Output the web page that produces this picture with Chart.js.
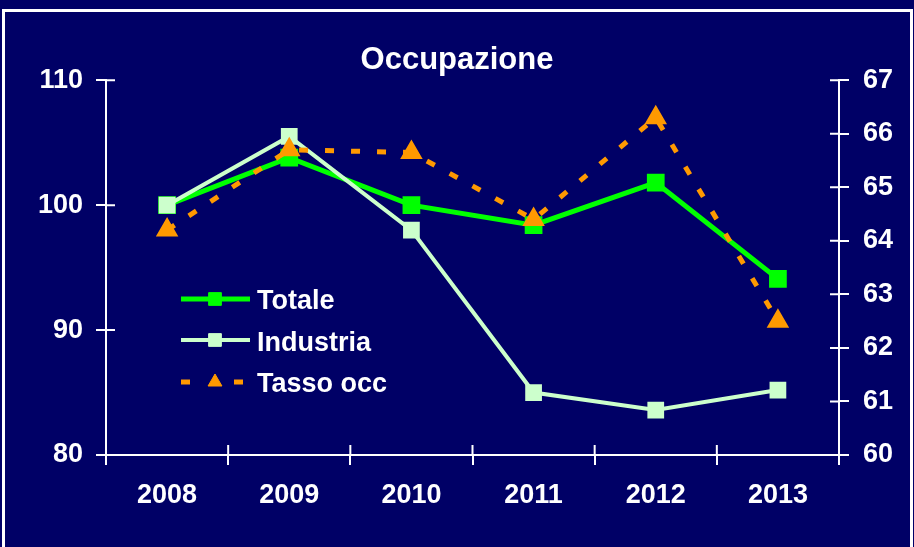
<!DOCTYPE html>
<html>
<head>
<meta charset="utf-8">
<script src="https://cdn.jsdelivr.net/npm/chart.js@4"></script>
<style>
  html, body { margin: 0; padding: 0; background: #000066; }
  #wrap { width: 914px; height: 547px; position: relative; }
</style>
</head>
<body>
<div id="wrap"><canvas id="occChart" width="914" height="547"></canvas></div>
<script>
const years = ['2008', '2009', '2010', '2011', '2012', '2013'];
const totale = [100, 103.8, 100, 98.4, 101.8, 94.1];
const industria = [100, 105.5, 98, 85, 83.6, 85.2];
const tassoOcc = [64.2, 65.7, 65.65, 64.4, 66.3, 62.5];
const leftTicks = [80, 90, 100, 110];
const rightTicks = [60, 61, 62, 63, 64, 65, 66, 67];

const FONT = "'Liberation Sans', Arial, sans-serif";

// white frame, inner tick halves and the legend box
const decorations = {
    id: 'decorations',
    beforeDraw(chart) {
        const c = chart.ctx;
        c.save();
        c.fillStyle = '#000066';
        c.fillRect(0, 0, chart.width, chart.height);
        c.strokeStyle = '#ffffff';
        c.lineWidth = 3;
        c.strokeRect(3.5, 10.5, 908, 560);
        c.restore();
    },
    afterDatasetsDraw(chart) {
        const c = chart.ctx;
        const { x, y, y2 } = chart.scales;
        c.save();
        c.strokeStyle = '#ffffff';
        c.lineWidth = 2;
        c.beginPath();
        // inner part of the tick marks
        const n = years.length;
        for (let i = 0; i <= n; i++) {
            const px = x.left + i * (x.right - x.left) / n;
            c.moveTo(px, x.top);
            c.lineTo(px, x.top - 10);
        }
        y.ticks.forEach((t, i) => {
            const py = y.getPixelForTick(i);
            c.moveTo(y.right, py);
            c.lineTo(y.right + 9, py);
        });
        y2.ticks.forEach((t, i) => {
            const py = y2.getPixelForTick(i);
            c.moveTo(y2.left, py);
            c.lineTo(y2.left - 9, py);
        });
        c.stroke();

        // legend
        const rows = [299, 340, 382];
        const baselines = [309, 351, 392];
        chart.data.datasets.forEach((ds, i) => {
            const ly = rows[i];
            c.save();
            c.strokeStyle = ds.borderColor;
            c.lineWidth = ds.borderWidth;
            c.beginPath();
            if (ds.borderDash) {
                c.moveTo(181, ly); c.lineTo(190, ly);
                c.moveTo(234, ly); c.lineTo(243, ly);
            } else {
                c.moveTo(181, ly); c.lineTo(250, ly);
            }
            c.stroke();
            c.fillStyle = ds.pointBackgroundColor;
            c.strokeStyle = ds.pointBorderColor;
            c.lineWidth = 1;
            Chart.helpers.drawPoint(c, {
                pointStyle: ds.pointStyle,
                radius: ds.pointRadius,
                borderWidth: 1
            }, 215, ly);
            c.restore();

            c.fillStyle = '#ffffff';
            c.font = 'bold 27px ' + FONT;
            c.textBaseline = 'alphabetic';
            c.fillText(ds.label, 257, baselines[i]);
        });
        c.restore();
    }
};

new Chart(document.getElementById('occChart').getContext('2d'), {
    type: 'line',
    data: {
        labels: years,
        datasets: [
            {
                label: 'Totale',
                data: totale,
                yAxisID: 'y',
                borderColor: '#00ff00',
                backgroundColor: '#00ff00',
                pointBackgroundColor: '#00ff00',
                pointBorderColor: '#00ff00',
                borderWidth: 5,
                pointStyle: 'rect',
                pointRadius: 9,
                order: 3
            },
            {
                label: 'Industria',
                data: industria,
                yAxisID: 'y',
                borderColor: '#ccffcc',
                backgroundColor: '#ccffcc',
                pointBackgroundColor: '#ccffcc',
                pointBorderColor: '#ccffcc',
                borderWidth: 4,
                pointStyle: 'rect',
                pointRadius: 9,
                order: 2
            },
            {
                label: 'Tasso occ',
                data: tassoOcc,
                yAxisID: 'y2',
                borderColor: '#ff9900',
                backgroundColor: '#ff9900',
                pointBackgroundColor: '#ff9900',
                pointBorderColor: '#ff9900',
                borderWidth: 5,
                borderDash: [9, 17],
                pointStyle: 'triangle',
                pointRadius: 8,
                order: 1
            }
        ]
    },
    options: {
        responsive: false,
        animation: false,
        layout: { padding: 0 },
        plugins: {
            legend: { display: false },
            tooltip: { enabled: false },
            title: {
                display: true,
                text: 'Occupazione',
                color: '#ffffff',
                font: { family: FONT, size: 31, weight: 'bold' },
                padding: { top: 42, bottom: 1 }
            }
        },
        scales: {
            x: {
                offset: true,
                grid: { display: true, offset: true, drawOnChartArea: false, drawTicks: true, tickLength: 10, color: '#ffffff', lineWidth: 2 },
                border: { display: true, color: '#ffffff', width: 2 },
                ticks: { color: '#ffffff', font: { family: FONT, size: 27, weight: 'bold' }, padding: 14, maxRotation: 0 },
                afterFit: s => { s.height = 92; }
            },
            y: {
                position: 'left',
                min: 80, max: 110,
                afterBuildTicks: s => { s.ticks = leftTicks.map(v => ({ value: v })); },
                grid: { display: true, drawOnChartArea: false, drawTicks: true, tickLength: 10, color: '#ffffff', lineWidth: 2 },
                border: { display: true, color: '#ffffff', width: 2 },
                ticks: { color: '#ffffff', font: { family: FONT, size: 27, weight: 'bold' }, padding: 13 },
                afterFit: s => { s.width = 106; }
            },
            y2: {
                position: 'right',
                min: 60, max: 67,
                afterBuildTicks: s => { s.ticks = rightTicks.map(v => ({ value: v })); },
                grid: { display: true, drawOnChartArea: false, drawTicks: true, tickLength: 10, color: '#ffffff', lineWidth: 2 },
                border: { display: true, color: '#ffffff', width: 2 },
                ticks: { color: '#ffffff', font: { family: FONT, size: 27, weight: 'bold' }, padding: 14 },
                afterFit: s => { s.width = 75; }
            }
        }
    },
    plugins: [decorations]
});
</script>
</body>
</html>
